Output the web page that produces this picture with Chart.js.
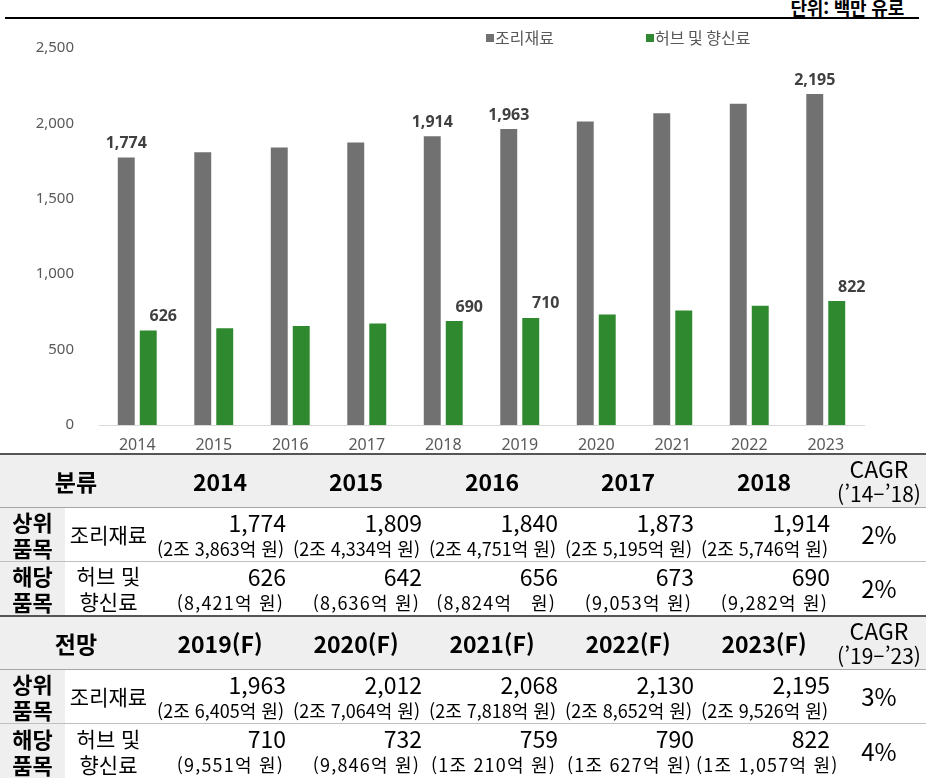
<!DOCTYPE html>
<html lang="ko">
<head>
<meta charset="utf-8">
<script src="https://cdn.jsdelivr.net/npm/chart.js@4.4.1/dist/chart.umd.min.js"></script>
<style>
  html, body { margin: 0; padding: 0; background: #fff; }
  body { width: 926px; height: 779px; position: relative; overflow: hidden; font-family: "Noto Sans CJK KR", "Noto Sans", sans-serif; }
  #unit { position: absolute; right: 22px; top: -3px; font-size: 18px; line-height: 20px; font-weight: bold; color: #000; letter-spacing: -0.2px; }
  #topline { position: absolute; left: 5px; width: 914px; top: 17px; height: 2px; background: #000; }
  #chartBox { position: absolute; left: 0; top: 0; width: 926px; height: 453px; }
  table { position: absolute; left: 0; top: 453px; width: 926px; border-collapse: collapse; table-layout: fixed; color: #000; }
  td { padding: 0; white-space: nowrap; overflow: visible; }
  tr.hd td { background: #efefef; font-weight: bold; font-size: 23px; line-height: 28px; text-align: center; }
  tr.hd { height: 53px; border-top: 2px solid #555; border-bottom: 1px solid #a6a6a6; }
  tr.hd td.cagr { font-weight: normal; font-size: 23px; line-height: 24px; }
  tr.hd td.cagr span { font-size: 21px; }
  tr.dt { height: 54px; }
  tr.dt.herb { height: 55px; }
  tr.dt.first { border-bottom: 1px solid #bfbfbf; }
  td.grp { background: #efefef; font-weight: bold; font-size: 22px; line-height: 26px; text-align: center; }
  td.item { font-size: 21px; line-height: 26px; text-align: center; }
  td.val { text-align: right; padding-right: 2px; }
  td.val .n { font-size: 23px; line-height: 27px; }
  td.val .s { font-size: 18px; line-height: 24px; letter-spacing: 0px; padding-right: 2px; }
  tr.herb td.val .s { letter-spacing: 1.2px; }
  td.pct { font-size: 24px; line-height: 28px; text-align: center; }
</style>
</head>
<body>
<div id="unit">단위: 백만 유로</div>
<div id="topline"></div>
<div id="chartBox"><canvas id="c"></canvas></div>
<table id="tbl"></table>
<script>
// ---- data ----
const years = ['2014', '2015', '2016', '2017', '2018', '2019', '2020', '2021', '2022', '2023'];
const seriesNames = ['조리재료', '허브 및 향신료'];
const cookingIngredients = [1774, 1809, 1840, 1873, 1914, 1963, 2012, 2068, 2130, 2195];
const herbsSpices = [626, 642, 656, 673, 690, 710, 732, 759, 790, 822];
const labeledIndices = [0, 4, 5, 9];
const yTicks = [0, 500, 1000, 1500, 2000, 2500];

// table data
const headerPast = ['2014', '2015', '2016', '2017', '2018'];
const headerFuture = ['2019(F)', '2020(F)', '2021(F)', '2022(F)', '2023(F)'];
const cookingKRWPast = ['(2조 3,863억 원)', '(2조 4,334억 원)', '(2조 4,751억 원)', '(2조 5,195억 원)', '(2조 5,746억 원)'];
const herbsKRWPast = ['(8,421억 원)', '(8,636억 원)', '(8,824억\u00a0\u00a0 원)', '(9,053억 원)', '(9,282억 원)'];
const cookingKRWFuture = ['(2조 6,405억 원)', '(2조 7,064억 원)', '(2조 7,818억 원)', '(2조 8,652억 원)', '(2조 9,526억 원)'];
const herbsKRWFuture = ['(9,551억 원)', '(9,846억 원)', '(1조 210억 원)', '(1조 627억 원)', '(1조 1,057억 원)'];
const cagrPast = ['2%', '2%'];
const cagrFuture = ['3%', '4%'];

// ---- table ----
const fmt = v => v.toLocaleString('en-US');
function buildTable() {
  const t = document.getElementById('tbl');
  let h = '<colgroup><col style="width:65px"><col style="width:87px">' +
    '<col style="width:136px"><col style="width:136px"><col style="width:136px"><col style="width:136px"><col style="width:136px">' +
    '<col style="width:94px"></colgroup>';
  function block(title, hdr, cagrLabel, c, cK, hbs, hK, cg) {
    let s = '<tr class="hd"><td colspan="2">' + title + '</td>';
    hdr.forEach(y => s += '<td>' + y + '</td>');
    s += '<td class="cagr">CAGR<br><span>' + cagrLabel + '</span></td></tr>';
    s += '<tr class="dt first"><td class="grp">상위<br>품목</td><td class="item">조리재료</td>';
    c.forEach((v, i) => s += '<td class="val"><div class="n">' + fmt(v) + '</div><div class="s">' + cK[i] + '</div></td>');
    s += '<td class="pct">' + cg[0] + '</td></tr>';
    s += '<tr class="dt herb"><td class="grp">해당<br>품목</td><td class="item">허브 및<br>향신료</td>';
    hbs.forEach((v, i) => s += '<td class="val"><div class="n">' + fmt(v) + '</div><div class="s">' + hK[i] + '</div></td>');
    s += '<td class="pct">' + cg[1] + '</td></tr>';
    return s;
  }
  h += block('분류', headerPast, "(’14–’18)", cookingIngredients.slice(0, 5), cookingKRWPast, herbsSpices.slice(0, 5), herbsKRWPast, cagrPast);
  h += block('전망', headerFuture, "(’19–’23)", cookingIngredients.slice(5), cookingKRWFuture, herbsSpices.slice(5), herbsKRWFuture, cagrFuture);
  t.innerHTML = h;
}
buildTable();

// ---- chart ----
const GRAY = '#717171';
const GREEN = '#2f8a2f';

const valueLabels = {
  id: 'valueLabels',
  afterDatasetsDraw(chart) {
    const ctx = chart.ctx;
    ctx.save();
    ctx.font = 'bold 16px "Open Sans", "Noto Sans", sans-serif';
    ctx.fillStyle = '#404040';
    ctx.textAlign = 'center';
    ctx.textBaseline = 'middle';
    chart.data.datasets.forEach((ds, di) => {
      const meta = chart.getDatasetMeta(di);
      labeledIndices.forEach(i => {
        const el = meta.data[i];
        const dx = di === 1 ? 15 : 0;
        ctx.fillText(fmt(ds.data[i]), el.x + dx, el.y - 14);
      });
    });
    ctx.restore();
  }
};

const customLegend = {
  id: 'customLegend',
  afterDraw(chart) {
    const ctx = chart.ctx;
    const xs = [486, 646];
    const y = 38;
    ctx.save();
    ctx.font = '16px "Noto Sans CJK KR", sans-serif';
    ctx.textBaseline = 'middle';
    ctx.textAlign = 'left';
    chart.data.datasets.forEach((ds, i) => {
      ctx.fillStyle = ds.backgroundColor;
      ctx.fillRect(xs[i], y - 4, 8, 8);
      ctx.fillStyle = '#595959';
      ctx.fillText(ds.label, xs[i] + 9, y);
    });
    ctx.restore();
  }
};

new Chart(document.getElementById('c'), {
  type: 'bar',
  data: {
    labels: years,
    datasets: [
      { label: seriesNames[0], data: cookingIngredients, backgroundColor: GRAY, categoryPercentage: 0.575, barPercentage: 0.77 },
      { label: seriesNames[1], data: herbsSpices, backgroundColor: GREEN, categoryPercentage: 0.575, barPercentage: 0.77 }
    ]
  },
  options: {
    responsive: true,
    maintainAspectRatio: false,
    animation: false,
    layout: { padding: { top: 48, right: 62, left: 0, bottom: 0 } },
    plugins: { legend: { display: false }, tooltip: { enabled: false } },
    scales: {
      x: {
        grid: { display: false },
        border: { color: '#d9d9d9', width: 1 },
        ticks: { color: '#595959', font: { family: '"Noto Sans", sans-serif', size: 16 }, padding: 3 },
        afterFit(s) { s.height = 28; }
      },
      y: {
        min: 0, max: 2500,
        afterBuildTicks(s) { s.ticks = yTicks.map(v => ({ value: v })); },
        grid: { display: false },
        border: { display: false },
        ticks: { color: '#595959', font: { family: '"Noto Sans", sans-serif', size: 15 }, padding: 17, callback: v => fmt(v) },
        afterFit(s) { s.width = 99; }
      }
    }
  },
  plugins: [valueLabels, customLegend]
});
</script>
</body>
</html>
